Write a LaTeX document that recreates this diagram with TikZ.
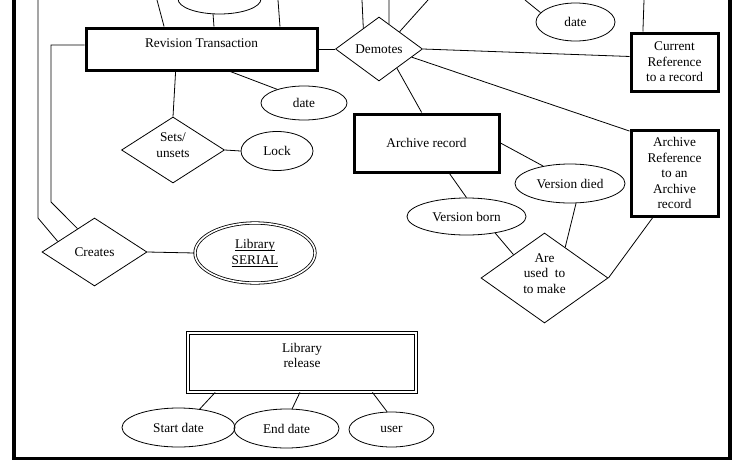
\documentclass[tikz,border=0pt]{standalone}
\usepackage{fontspec}
\setmainfont{Liberation Serif}
\usetikzlibrary{shapes.geometric}
\newcommand{\ulined}[1]{\setbox0\hbox{#1}\rlap{\rule[-2.5pt]{\wd0}{0.8pt}}\box0}

\tikzset{
  entity/.style={rectangle, draw, line width=3pt, inner sep=0pt, align=center},
  weak/.style={rectangle, draw, double, line width=0.8pt, double distance=1.6pt, inner sep=0pt},
  attr/.style={ellipse, draw, inner sep=0pt, align=center},
  rel/.style={diamond, draw, inner sep=0pt, aspect=1.5, align=center},
}

\begin{document}
\begin{tikzpicture}[x=1pt, y=-1pt, line width=0.8pt,
  every node/.style={font=\fontsize{13.3}{15.5}\selectfont}]
\useasboundingbox (0,0) rectangle (742,461);
\clip (0,0) rectangle (742,461);

\draw[line width=3.5pt] (14,-10) -- (14,458.5) -- (730,458.5) -- (730,-10);

\node[entity, minimum width=231pt, minimum height=42pt, text height=19.5pt, text depth=22.5pt] (rt) at (201.5,49) {Revision Transaction};
\node[entity, minimum width=87pt, minimum height=58pt] (cur) at (674.5,62) {Current\\Reference\\to a record};
\node[entity, minimum width=87pt, minimum height=86pt] (aref) at (674.5,173) {Archive\\Reference\\to an\\Archive\\record};
\node[entity, minimum width=145pt, minimum height=58pt] (arec) at (426.5,143) {Archive record};
\node[weak, minimum width=228pt, minimum height=59pt,
  label={[anchor=north, align=center, inner sep=0pt, yshift=-10pt]north:Library\\release}] (lrel) at (302,362.5) {};

\node[rel, minimum width=87pt, minimum height=64pt] (dem) at (379,49) {Demotes};
\node[rel, minimum width=105pt, minimum height=68pt] (cr) at (94.5,252) {Creates};
\node[rel, minimum width=103pt, minimum height=66pt] (sets) at (173,150) {Sets/\\unsets\\[-6pt]};
\node[rel, minimum width=127pt, minimum height=90pt] (are) at (544.5,278) {Are\\used~ to\\to make\\[-6pt]};

\node[attr, minimum width=83pt, minimum height=30pt] (ell) at (219.5,-1) {};
\node[attr, minimum width=79pt, minimum height=38pt] (date1) at (575.5,22) {date};
\node[attr, minimum width=86pt, minimum height=34pt] (date2) at (304,103) {date};
\node[attr, minimum width=72pt, minimum height=39pt] (lock) at (277,151) {Lock};
\node[attr, double, double distance=1.6pt, minimum width=120pt, minimum height=60pt] (ser) at (255,253) {\ulined{Library}\\\ulined{SERIAL}};
\node[attr, minimum width=110pt, minimum height=39pt] (vdied) at (570,183.5) {Version died};
\node[attr, minimum width=119pt, minimum height=37pt] (vborn) at (466.5,216.5) {Version born};
\node[attr, minimum width=113pt, minimum height=39pt] (sdate) at (178.5,427.5) {Start date};
\node[attr, minimum width=105pt, minimum height=39pt] (edate) at (286.5,428.5) {End date};
\node[attr, minimum width=85pt, minimum height=35pt] (user) at (391.5,429.5) {user};

\coordinate (t0) at (38,0);
\coordinate (c2) at (38,218);
\coordinate (c1) at (51,202);
\coordinate (t1) at (157,0);
\coordinate (t2) at (278,0);
\coordinate (t3) at (362,0);
\coordinate (t4) at (389,0);
\coordinate (t5) at (428,0);
\coordinate (t6) at (525,0);
\coordinate (t7) at (644,0);

\draw (t0) -- (c2) -- (cr.164);
\draw (rt.178) -| (c1) -- (cr.126);
\draw (t1) edge (rt.149);
\draw (ell.247) edge (rt.61);
\draw (t2) edge (rt.16);
\draw (rt.east) edge (dem.west);
\draw (rt.221) edge (sets.north);
\draw (rt.322) edge (date2.153);
\draw (sets.east) edge (lock.west);
\draw (cr.east) edge (ser.west);

\draw (t3) edge (dem.127);
\draw (t4) edge (dem.68);
\draw (t5) edge (dem.40);
\draw (dem.east) edge (cur.173);
\draw (dem.346) edge (aref.137);
\draw (dem.313) edge (arec.99);
\draw (t6) edge (date1.165);
\draw (t7) edge (cur.136);

\draw (arec.east) edge (vdied.147);
\draw (arec.307) edge (vborn.north);
\draw (vborn.330) edge (are.143);
\draw (vdied.287) edge (are.56);
\draw (aref.244) edge (are.east);

\draw (lrel.199) edge (sdate.41);
\draw (lrel.266) edge (edate.74);
\draw (lrel.337) edge (user.104);

\end{tikzpicture}
\end{document}
